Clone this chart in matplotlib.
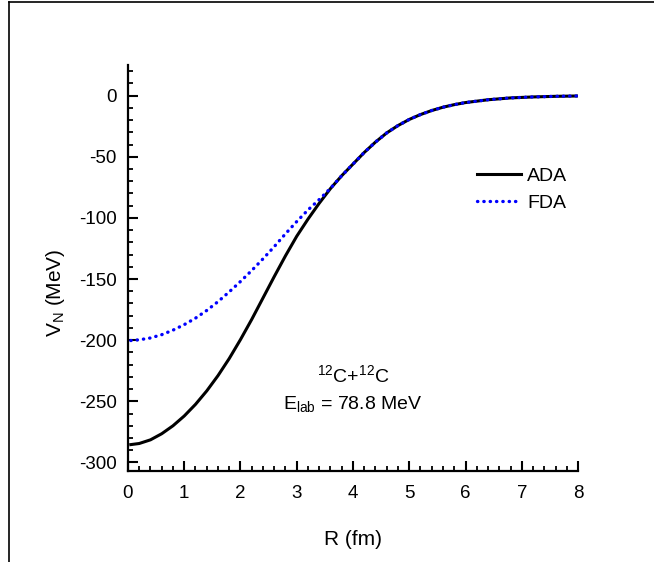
import matplotlib
matplotlib.use('Agg')
import matplotlib.pyplot as plt
from matplotlib.lines import Line2D
from matplotlib.ticker import MultipleLocator

plt.rcParams['font.family'] = ['Liberation Sans', 'DejaVu Sans']
plt.rcParams['mathtext.fontset'] = 'custom'
plt.rcParams['mathtext.rm'] = 'Liberation Sans'
plt.rcParams['mathtext.it'] = 'Liberation Sans'
plt.rcParams['axes.unicode_minus'] = False

# radius (fm) and nuclear potential (MeV)
r_ada = [0.05, 0.2, 0.4, 0.6, 0.8, 1.0, 1.2, 1.4, 1.6, 1.8, 2.0, 2.2, 2.4,
         2.6, 2.8, 3.0, 3.2, 3.4, 3.6, 3.8, 4.0, 4.2, 4.4, 4.6, 4.8, 5.0,
         5.2, 5.4, 5.6, 5.8, 6.0, 6.4, 6.8, 7.2, 7.6, 8.0]
v_ada = [-285.4, -284.5, -281.5, -276.5, -270, -262, -252.5, -241.5, -229,
         -215, -199.5, -183, -165.5, -148, -131, -115, -101, -88, -76,
         -65.5, -56, -46.5, -38, -30.5, -24.5, -19.5, -15.5, -12.2, -9.5,
         -7.4, -5.7, -3.4, -1.9, -1.1, -0.6, -0.3]

r_fda = [0.05, 0.2, 0.4, 0.6, 0.8, 1.0, 1.2, 1.4, 1.6, 1.8, 2.0, 2.2, 2.4,
         2.6, 2.8, 3.0, 3.2, 3.4, 3.6, 3.8, 4.0, 4.2, 4.4, 4.6, 4.8, 5.0,
         5.2, 5.4, 5.6, 5.8, 6.0, 6.4, 6.8, 7.2, 7.6, 8.0]
v_fda = [-200.3, -199.7, -198.2, -195.5, -191.8, -187.3, -182, -175.7,
         -168.5, -160.5, -152, -143, -133.5, -123.5, -113, -103, -93.5, -85,
         -75.8, -65.5, -56, -46.5, -38, -30.5, -24.5, -19.5, -15.5, -12.2,
         -9.5, -7.4, -5.7, -3.4, -1.9, -1.1, -0.6, -0.3]

fig = plt.figure(figsize=(6.54, 5.62), dpi=100)
ax = fig.add_axes([0.1957, 0.1619, 0.6881, 0.7224])

ax.plot(r_ada, v_ada, color='black', lw=2.2, label='ADA')
ax.plot(r_fda, v_fda, color='#0000ff', lw=2.4, linestyle=(0, (0.1, 1.8)),
        dash_capstyle='round', label='FDA')

ax.set_xlim(0, 8)
ax.set_ylim(-307, 25)
ax.xaxis.set_major_locator(MultipleLocator(1))
ax.xaxis.set_minor_locator(MultipleLocator(0.2))
ax.yaxis.set_major_locator(MultipleLocator(50))
ax.yaxis.set_minor_locator(MultipleLocator(10))

for s in ['top', 'right']:
    ax.spines[s].set_visible(False)
for s in ['left', 'bottom']:
    ax.spines[s].set_linewidth(1.6)

ax.tick_params(which='major', direction='in', length=7, width=1.5,
               labelsize=13.5)
ax.tick_params(which='minor', direction='in', length=3.8, width=1.3)
ax.tick_params(axis='x', which='major', pad=10)
ax.tick_params(axis='y', which='major', pad=8)

ax.set_xlabel('R (fm)', fontsize=15)
ax.set_ylabel('V$_{\\rm N}$ (MeV)', fontsize=15)
ax.xaxis.set_label_coords(0.5, -0.145)
ax.yaxis.set_label_coords(-0.135, 0.44)

ax.legend(loc='upper left', bbox_to_anchor=(0.736, 0.792), frameon=False,
          fontsize=14, handlelength=2.3, handletextpad=0.3,
          labelspacing=0.5)

ax.text(0.5, 0.235, '$^{12}$C+$^{12}$C', transform=ax.transAxes,
        ha='center', va='center', fontsize=14)
ax.text(0.5, 0.165, 'E$_{\\rm lab}$ = 78.8 MeV', transform=ax.transAxes,
        ha='center', va='center', fontsize=14)

# outer frame (left and top edges)
fig.add_artist(Line2D([9 / 654, 9 / 654], [0, 1 - 2 / 562],
                      transform=fig.transFigure, color='black', lw=1.2))
fig.add_artist(Line2D([9 / 654, 1], [1 - 2 / 562, 1 - 2 / 562],
                      transform=fig.transFigure, color='black', lw=1.2))

fig.savefig('out.png', dpi=100)
